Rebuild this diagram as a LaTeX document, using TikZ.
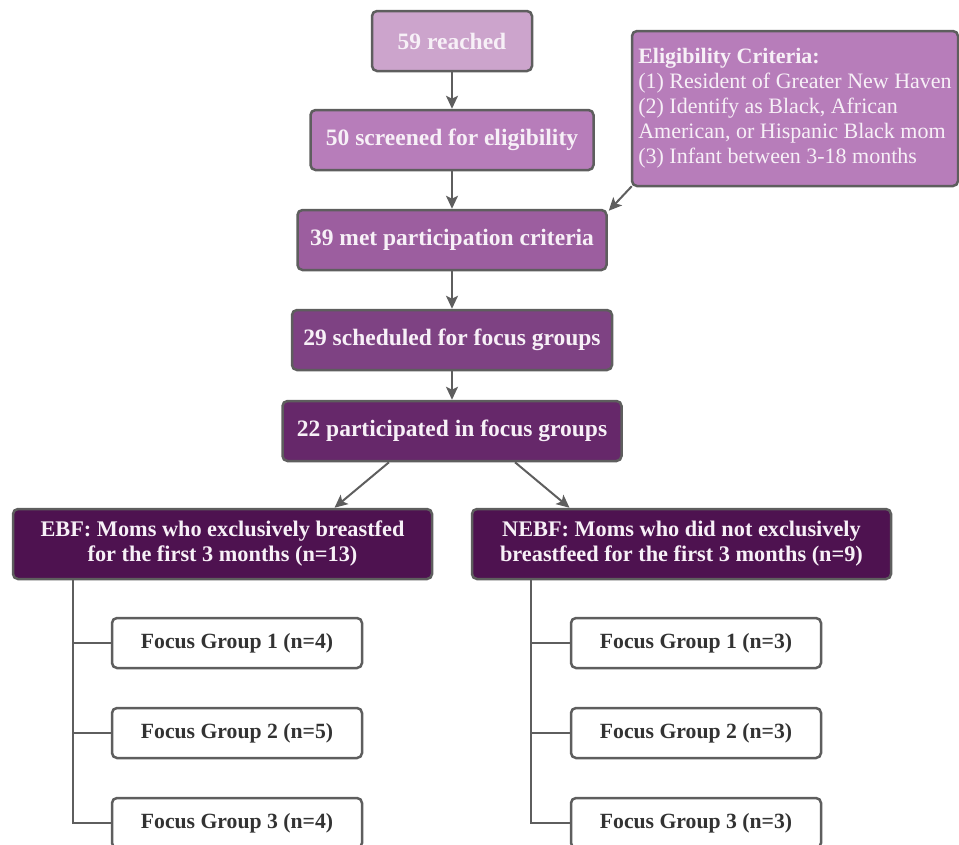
\documentclass[tikz,border=0pt]{standalone}
\usepackage{fontspec}
\setmainfont{Liberation Serif}
\usetikzlibrary{arrows.meta, calc}
\definecolor{lilacA}{HTML}{CCA4CC}
\definecolor{lilacB}{HTML}{B77DBA}
\definecolor{lilacC}{HTML}{9C5E9F}
\definecolor{plumA}{HTML}{7E4283}
\definecolor{plumB}{HTML}{66286A}
\definecolor{plumC}{HTML}{4E1250}
\definecolor{boxline}{HTML}{5E5E5E}
\definecolor{boxtext}{HTML}{F7F0F7}
\definecolor{fgtext}{HTML}{333333}
\tikzset{
    box/.style={draw=boxline,line width=2.5pt,rounded corners=5pt,text=boxtext,
        font=\fontsize{23.5}{27}\selectfont\bfseries,inner sep=0pt,minimum height=60pt},
    crit/.style={box,fill=lilacB,align=left,minimum width=326pt,minimum height=155pt,
        font=\fontsize{22}{25}\selectfont},
    grp/.style={box,fill=plumC,align=center,minimum width=419pt,minimum height=70pt,
        font=\fontsize{22.3}{25}\selectfont\bfseries},
    fgbox/.style={box,fill=white,text=fgtext,minimum width=250pt,minimum height=50pt,
        font=\fontsize{21.7}{25}\selectfont\bfseries},
    tree/.style={draw=boxline,line width=2pt},
    flow/.style={
        every edge/.style={draw=boxline,line width=2pt,
            -{Stealth[length=13pt,width=12pt,inset=3pt]}},
    }
}

\begin{document}
\begin{tikzpicture}[x=1pt,y=-1pt,flow]
\useasboundingbox (0,0) rectangle (959,844);
\node[box,fill=lilacA,minimum width=160pt] (reach)  at (452,41)  {59 reached};
\node[box,fill=lilacB,minimum width=283pt] (screen) at (452,140) {50 screened for eligibility};
\node[box,fill=lilacC,minimum width=309pt] (met)    at (452,240) {39 met participation criteria};
\node[box,fill=plumA,minimum width=320pt]  (sched)  at (452,340) {29 scheduled for focus groups};
\node[box,fill=plumB,minimum width=339pt]  (part)   at (452,431) {22 participated in focus groups};
\node[crit] (elig) at (795,108.5) {\textbf{Eligibility Criteria:}\\(1) Resident of Greater New Haven\\
    (2) Identify as Black, African\\American, or Hispanic Black mom\\(3) Infant between 3-18 months};
\node[grp] (ebf)  at (222.5,544) {EBF: Moms who exclusively breastfed\\for the first 3 months (n=13)};
\node[grp] (nebf) at (681.5,544) {NEBF: Moms who did not exclusively\\breastfeed for the first 3 months (n=9)};
% focus groups
\node[fgbox] (ebfA) at (237,643) {Focus Group 1 (n=4)};
\node[fgbox] (ebfB) at (237,733) {Focus Group 2 (n=5)};
\node[fgbox] (ebfC) at (237,823) {Focus Group 3 (n=4)};
\node[fgbox] (nebfA) at (696,643) {Focus Group 1 (n=3)};
\node[fgbox] (nebfB) at (696,733) {Focus Group 2 (n=3)};
\node[fgbox] (nebfC) at (696,823) {Focus Group 3 (n=3)};
\path
    (reach) edge (screen)
    (screen) edge (met)
    (met) edge (sched)
    (sched) edge (part)
    ([shift={(1,-1)}]elig.south west) edge ([shift={(1,2)}]met.north east)
    ($(part.south)+(-63,0)$) edge ($(ebf.north)+(112,0)$)
    ($(part.south)+(63,0)$) edge ($(nebf.north)+(-112,0)$)
;
\draw[tree] ([xshift=61pt]ebf.south west) |- (ebfC.west);
\draw[tree] (ebfA.west) -- ++(-38,0);
\draw[tree] (ebfB.west) -- ++(-38,0);
\draw[tree] ([xshift=60pt]nebf.south west) |- (nebfC.west);
\draw[tree] (nebfA.west) -- ++(-39,0);
\draw[tree] (nebfB.west) -- ++(-39,0);
\end{tikzpicture}
\end{document}
